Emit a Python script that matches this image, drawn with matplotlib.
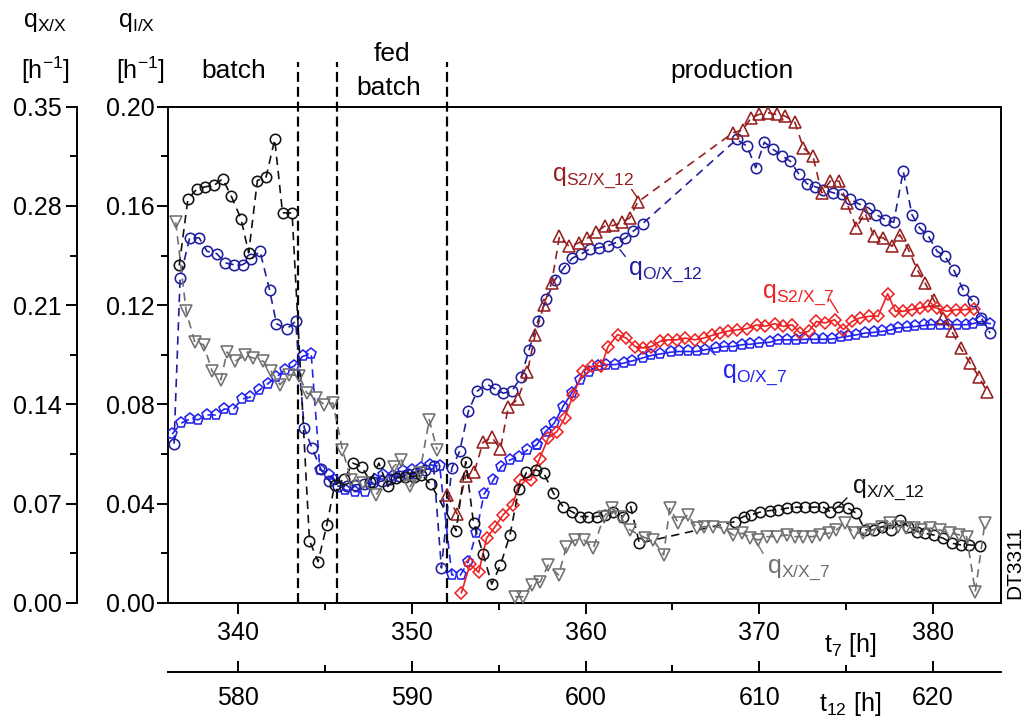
import matplotlib
matplotlib.use("Agg")
import matplotlib.pyplot as plt
from matplotlib.ticker import MultipleLocator, FormatStrFormatter, NullLocator

plt.rcParams['font.family'] = ['Liberation Sans', 'DejaVu Sans']
plt.rcParams['mathtext.default'] = 'regular'

# ---------------- data ----------------
# phase switch times on the t7 scale [h]
phase_bounds = [343.42, 345.66, 352.0]
t12_offset = 240.0

# q_O/X_7 (inner axis, h^-1)
t_ox7 = [336.2, 336.7, 337.2, 337.7, 338.2, 338.7, 339.2, 339.7, 340.2, 340.7,
         341.2, 341.7, 342.2, 342.7, 343.2, 343.7, 344.2, 344.7, 345.2, 345.5,
         346.15, 346.7, 347.3, 347.85, 348.35, 348.9, 349.5, 350.0, 350.5, 351.05,
         351.6, 352.3, 352.8, 353.25, 353.7, 354.15, 354.7, 355.15, 355.65, 356.15,
         356.65, 357.2, 357.7, 358.2, 358.7, 359.2, 359.7, 360.2, 360.7, 361.2,
         361.7, 362.2, 362.7, 363.3, 363.8, 364.3, 364.9, 365.4, 365.9, 366.4,
         366.9, 367.5, 368.0, 368.5, 369.0, 369.5, 370.0, 370.6, 371.1, 371.6,
         372.1, 372.6, 373.2, 373.7, 374.2, 374.7, 375.1, 375.6, 376.1, 376.6,
         377.1, 377.6, 378.0, 378.5, 379.0, 379.5, 379.9, 380.4, 380.9, 381.4,
         381.9, 382.3, 382.8, 383.3]
q_ox7 = [0.068, 0.0724, 0.074, 0.0738, 0.0757, 0.0757, 0.0781, 0.0778, 0.0821, 0.0829,
         0.0856, 0.0883, 0.091, 0.0939, 0.0953, 0.0993, 0.1004, 0.0536, 0.0516, 0.0495,
         0.0455, 0.0448, 0.0448, 0.0495, 0.0516, 0.051, 0.053, 0.0536, 0.0543, 0.0556,
         0.055, 0.0112, 0.0112, 0.0166, 0.028, 0.0437, 0.0495, 0.0549, 0.0576, 0.0589,
         0.0616, 0.0637, 0.069, 0.0724, 0.0791, 0.0845, 0.090, 0.0932, 0.0953, 0.096,
         0.096, 0.0966, 0.0975, 0.0987, 0.0997, 0.1003, 0.101, 0.1013, 0.1013, 0.1013,
         0.102, 0.1027, 0.1033, 0.1033, 0.104, 0.1042, 0.1047, 0.105, 0.106, 0.106,
         0.106, 0.1062, 0.1062, 0.1062, 0.1063, 0.107, 0.1074, 0.108, 0.1087, 0.109,
         0.1094, 0.110, 0.1108, 0.111, 0.1114, 0.1118, 0.1121, 0.1121, 0.1121, 0.1121,
         0.1121, 0.1125, 0.1134, 0.1125]

# q_O/X_12 (inner axis)
t_ox12 = [336.3, 336.65, 337.2, 337.75, 338.2, 338.75, 339.25, 339.75, 340.25, 340.75,
          341.25, 341.8, 342.2, 342.8, 343.3, 343.8, 344.25, 344.75, 345.25, 345.75,
          346.25, 346.75, 347.25, 347.75, 348.25, 348.75, 349.25, 349.75, 350.25, 350.75,
          351.25, 351.7, 352.3, 352.75, 353.25, 353.75, 354.3, 354.8, 355.25, 355.75,
          356.3, 356.75, 357.25, 357.75, 358.25, 358.75, 359.25, 359.75, 360.25, 360.75,
          361.3, 361.8, 362.3, 362.75, 363.3, 368.7, 369.3, 369.8, 370.3, 370.8,
          371.3, 371.8, 372.3, 372.75, 373.2, 373.7, 374.25, 374.75, 375.25, 375.8,
          376.3, 376.75, 377.25, 377.75, 378.3, 378.8, 379.25, 379.75, 380.25, 380.7,
          381.2, 381.75, 382.3, 382.8, 383.3]
q_ox12 = [0.0641, 0.131, 0.1471, 0.1471, 0.1417, 0.1408, 0.137, 0.1363, 0.1363, 0.1386,
          0.1417, 0.1262, 0.1125, 0.1104, 0.1134, 0.0704, 0.0623, 0.054, 0.049, 0.047,
          0.047, 0.0475, 0.048, 0.0485, 0.049, 0.050, 0.051, 0.052, 0.0525, 0.0535,
          0.055, 0.014, 0.0543, 0.061, 0.0771, 0.0852, 0.0882, 0.0862, 0.0845, 0.0852,
          0.0912, 0.102, 0.1134, 0.1225, 0.1303, 0.135, 0.139, 0.1406, 0.1427, 0.1431,
          0.144, 0.1453, 0.1471, 0.1498, 0.1529, 0.1868, 0.1841, 0.1754, 0.1857, 0.1828,
          0.1803, 0.178, 0.1727, 0.169, 0.1678, 0.1666, 0.1653, 0.1646, 0.1626, 0.1606,
          0.1592, 0.1565, 0.1545, 0.1534, 0.174, 0.1565, 0.1511, 0.1478, 0.1417, 0.1397,
          0.1343, 0.1262, 0.1215, 0.1148, 0.1087]

# q_S2/X_12 (inner axis)
t_s12 = [352.05, 352.6, 353.1, 353.6, 354.1, 354.6, 355.1, 355.55, 356.1, 356.65,
         357.1, 357.6, 358.05, 358.5, 359.05, 359.6, 360.1, 360.6, 361.1, 361.6,
         362.1, 362.55, 363.0, 368.5, 369.05, 369.55, 370.0, 370.5, 371.0, 371.5,
         372.05, 372.55, 373.1, 373.6, 374.1, 374.6, 375.05, 375.6, 376.1, 376.6,
         377.15, 377.65, 378.1, 378.6, 379.1, 379.55, 380.05, 380.6, 381.1, 381.6,
         382.15, 382.65, 383.15]
q_s12 = [0.0435, 0.0358, 0.0512, 0.0529, 0.0647, 0.0667, 0.062, 0.079, 0.082, 0.093,
         0.108, 0.120, 0.129, 0.1478, 0.1437, 0.1451, 0.147, 0.1494, 0.1518, 0.1521,
         0.1534, 0.1552, 0.1615, 0.1895, 0.1906, 0.1956, 0.1969, 0.1976, 0.1969, 0.1962,
         0.1938, 0.1834, 0.180, 0.1653, 0.170, 0.170, 0.1612, 0.1511, 0.1572, 0.1478,
         0.1471, 0.1437, 0.1484, 0.1424, 0.1343, 0.129, 0.1222, 0.115, 0.1094, 0.1027,
         0.0966, 0.0912, 0.0848]

# q_S2/X_7 (inner axis)
t_s7 = [352.85, 353.35, 353.85, 354.3, 354.8, 355.25, 355.8, 356.25, 356.85, 357.35,
        357.85, 358.35, 358.8, 359.3, 359.85, 360.35, 360.9, 361.3, 361.85, 362.35,
        362.85, 363.3, 363.8, 364.3, 364.75, 365.25, 365.75, 366.3, 366.8, 367.3,
        367.75, 368.2, 368.7, 369.3, 369.85, 370.35, 370.9, 371.4, 371.9, 372.35,
        372.85, 373.3, 373.8, 374.35, 374.85, 375.35, 375.8, 376.35, 376.85, 377.4,
        377.85, 378.3, 378.8, 379.25, 379.75, 380.25, 380.8, 381.35, 381.85, 382.4]
q_s7 = [0.004, 0.0155, 0.0122, 0.026, 0.0307, 0.0354, 0.0394, 0.0495, 0.0495, 0.058,
        0.0664, 0.069, 0.0744, 0.0839, 0.0933, 0.0953, 0.0953, 0.1033, 0.1081, 0.1067,
        0.1033, 0.1027, 0.1033, 0.1054, 0.106, 0.106, 0.1067, 0.106, 0.1067, 0.1078,
        0.1087, 0.1095, 0.110, 0.1105, 0.112, 0.1115, 0.1125, 0.1114, 0.1121, 0.1087,
        0.1094, 0.1134, 0.1128, 0.1141, 0.1101, 0.1134, 0.1148, 0.1155, 0.1155, 0.1246,
        0.1175, 0.1175, 0.1182, 0.1188, 0.1195, 0.1188, 0.1175, 0.1182, 0.1182, 0.1185]

# q_X/X_12 (outer axis)
t_xx12 = [336.6, 337.1, 337.6, 338.1, 338.6, 339.1, 339.6, 340.15, 340.6, 341.1,
          341.6, 342.1, 342.55, 343.1, 344.1, 344.6, 345.1, 345.55, 346.1, 346.6,
          347.1, 347.6, 348.1, 348.6, 349.1, 349.6, 350.1, 350.55, 351.1, 352.55,
          353.1, 353.55, 354.1, 354.6, 355.1, 355.65, 356.15, 356.6, 357.15, 357.6,
          358.15, 358.7, 359.2, 359.7, 360.15, 360.65, 361.1, 361.6, 362.15, 362.6,
          363.1, 368.6, 369.1, 369.55, 370.05, 370.6, 371.1, 371.6, 372.15, 372.65,
          373.15, 373.65, 374.1, 374.55, 375.1, 375.6, 376.1, 376.6, 377.1, 377.6,
          378.1, 378.6, 379.1, 379.55, 380.05, 380.6, 381.1, 381.6, 382.1, 382.7]
q_xx12 = [0.238, 0.285, 0.2916, 0.2935, 0.2944, 0.2991, 0.2868, 0.2711, 0.2469, 0.2979,
          0.3003, 0.3269, 0.2751, 0.2751, 0.0438, 0.029, 0.0549, 0.083, 0.087, 0.0985,
          0.0961, 0.0855, 0.0985, 0.082, 0.0879, 0.089, 0.089, 0.0902, 0.0835, 0.0508,
          0.0996, 0.0561, 0.0347, 0.013, 0.0266, 0.0478, 0.080, 0.0919, 0.0938, 0.0914,
          0.0773, 0.0678, 0.0643, 0.0608, 0.0608, 0.0608, 0.062, 0.0643, 0.0608, 0.0678,
          0.042, 0.0572, 0.0608, 0.062, 0.0639, 0.065, 0.0655, 0.0667, 0.0674, 0.0674,
          0.0674, 0.0678, 0.0643, 0.0678, 0.0667, 0.0632, 0.0514, 0.0514, 0.0537, 0.0514,
          0.0584, 0.0537, 0.0502, 0.049, 0.0478, 0.0455, 0.042, 0.0408, 0.0408, 0.0401]

# q_X/X_7 (outer axis), batch + fed batch part
t_xx7_a = [336.4, 337.0, 337.5, 338.0, 338.5, 339.0, 339.35, 339.8, 340.4, 340.85,
           341.45, 341.9, 342.4, 342.95, 343.5, 343.95, 344.5, 344.95, 345.45, 346.0,
           346.5, 347.2, 347.95, 348.95, 349.4, 349.9, 350.45, 351.0, 351.45]
q_xx7_a = [0.2685, 0.2056, 0.1837, 0.1821, 0.1632, 0.1573, 0.1769, 0.1703, 0.1745, 0.1727,
           0.1703, 0.1632, 0.1538, 0.1609, 0.1602, 0.148, 0.1444, 0.1397, 0.1409, 0.1079,
           0.0867, 0.0844, 0.0761, 0.0961, 0.1008, 0.082, 0.0914, 0.1291, 0.1079]
# q_X/X_7, production part
t_xx7_b = [355.95, 356.4, 356.9, 357.4, 357.85, 358.45, 358.9, 359.4, 359.9, 360.45,
           361.05, 361.5, 362.0, 362.55, 363.4, 363.9, 364.5, 364.85, 365.35, 365.9,
           366.4, 366.85, 367.35, 367.95, 368.5, 369.0, 369.5, 369.95, 370.45, 371.0,
           371.6, 372.05, 372.55, 373.05, 373.5, 374.0, 374.45, 374.95, 375.45, 376.0,
           376.5, 377.05, 377.55, 378.0, 378.45, 378.9, 379.35, 379.85, 380.4, 381.0,
           381.5, 381.95, 382.45, 383.0]
q_xx7_b = [0.0042, 0.0042, 0.0125, 0.0148, 0.0266, 0.0196, 0.0396, 0.0443, 0.0443, 0.0384,
           0.0608, 0.0667, 0.0608, 0.0514, 0.046, 0.0443, 0.0337, 0.0667, 0.0561, 0.062,
           0.0526, 0.0537, 0.0537, 0.0526, 0.0478, 0.049, 0.046, 0.0443, 0.0466, 0.0466,
           0.0478, 0.0466, 0.0466, 0.0466, 0.0478, 0.049, 0.0514, 0.0565, 0.049, 0.049,
           0.0514, 0.0537, 0.0561, 0.0537, 0.053, 0.0526, 0.0514, 0.0526, 0.0514, 0.049,
           0.048, 0.0466, 0.0078, 0.0561]

# ---------------- styles ----------------
c_navy = '#1f1f9e'
c_blue = '#2323ef'
c_dred = '#962020'
c_red = '#ee2222'
c_black = '#111111'
c_gray = '#707070'
FS = 18
LW_AX = 1.4

W, H = 1028, 724
fig = plt.figure(figsize=(W / 100, H / 100), dpi=100)
L, R, B, T = 168.3, 1001.0, 602.7, 106.7
ax = fig.add_axes([L / W, 1 - B / H, (R - L) / W, (B - T) / H])
ax.set_xlim(335.97, 383.93)
ax.set_ylim(0, 0.20)


def draw(axis, t, q, marker, color, ms, solid=False, z=3):
    kw = dict(color=color, lw=1.2, marker=marker, ms=ms, mfc='none',
              mec=color, mew=1.15, zorder=z, clip_on=True)
    if solid:
        axis.plot(t, q, ls='-', **kw)
    else:
        axis.plot(t, q, ls=(0, (5, 3.5)), **kw)


# phase boundaries, reaching above the frame
for tb in phase_bounds:
    ax.axvline(tb, ymin=0, ymax=(B - 62) / (B - T), color='black', lw=1.6,
               ls=(0, (4.5, 2.2)), clip_on=False, zorder=2)

# q_O/X_7: dashed during batch phases, solid in production
split = 41
draw(ax, t_ox7[:split + 1], q_ox7[:split + 1], 'p', c_blue, 8)
draw(ax, t_ox7[split:], q_ox7[split:], 'p', c_blue, 8, solid=True)
draw(ax, t_ox12, q_ox12, 'o', c_navy, 7.5)
draw(ax, t_s12, q_s12, '^', c_dred, 8.5)
draw(ax, t_s7, q_s7, 'D', c_red, 6.3, solid=True)

# twin axes carrying the q_X/X series (0 .. 0.35)
axx = ax.twinx()
axx.set_ylim(0, 0.35)
axx.set_axis_off()
draw(axx, t_xx12, q_xx12, 'o', c_black, 7.5)
draw(axx, t_xx7_a, q_xx7_a, 'v', c_gray, 8.5)
draw(axx, t_xx7_b, q_xx7_b, 'v', c_gray, 8.5)

# outer scale for q_X/X, placed left of the main frame
X_OUT = 77.0
axs = fig.add_axes([X_OUT / W, 1 - B / H, (L - X_OUT) / W, (B - T) / H])
axs.patch.set_visible(False)
for s in ('right', 'top', 'bottom'):
    axs.spines[s].set_visible(False)
axs.spines['left'].set_linewidth(LW_AX)
axs.set_ylim(axx.get_ylim())
axs.xaxis.set_major_locator(NullLocator())
axs.yaxis.set_major_locator(MultipleLocator(0.07))
axs.yaxis.set_minor_locator(MultipleLocator(0.035))
axs.yaxis.set_major_formatter(FormatStrFormatter('%.2f'))
axs.tick_params(axis='y', which='major', direction='out', length=8, width=LW_AX,
                pad=3, labelsize=FS)
axs.tick_params(axis='y', which='minor', direction='out', length=5, width=LW_AX)

# main axes styling
for s in ax.spines.values():
    s.set_linewidth(LW_AX)
ax.xaxis.set_major_locator(MultipleLocator(10))
ax.xaxis.set_minor_locator(MultipleLocator(5))
ax.yaxis.set_major_locator(MultipleLocator(0.04))
ax.yaxis.set_minor_locator(MultipleLocator(0.02))
ax.yaxis.set_major_formatter(FormatStrFormatter('%.2f'))
ax.xaxis.set_major_formatter(FormatStrFormatter('%d'))
ax.tick_params(axis='both', which='major', direction='out', length=8, width=LW_AX,
               labelsize=FS)
ax.tick_params(axis='y', which='major', pad=1.5)
ax.tick_params(axis='x', which='major', pad=5)
ax.tick_params(axis='both', which='minor', direction='out', length=5, width=LW_AX)

# second time axis (t12)
axt = ax.twiny()
x0, x1 = ax.get_xlim()
axt.set_xlim(x0 + t12_offset, x1 + t12_offset)
axt.xaxis.set_ticks_position('bottom')
axt.xaxis.set_label_position('bottom')
axt.spines['bottom'].set_position(('axes', -69 / (B - T)))
for s in ('right', 'top', 'left'):
    axt.spines[s].set_visible(False)
axt.spines['bottom'].set_linewidth(LW_AX)
axt.xaxis.set_major_locator(MultipleLocator(10))
axt.xaxis.set_minor_locator(MultipleLocator(5))
axt.xaxis.set_major_formatter(FormatStrFormatter('%d'))
axt.tick_params(axis='x', which='major', direction='in', length=8, width=LW_AX,
                pad=10, labelsize=FS)
axt.tick_params(axis='x', which='minor', direction='in', length=5, width=LW_AX)


def ftext(x, y, s, **kw):
    fig.text(x / W, 1 - y / H, s, fontsize=kw.pop('fontsize', FS), **kw)


# axis headers
ftext(45, 22, r'$q_{X/X}$', ha='center', va='center')
ftext(45, 70, r'[h$^{-1}$]', ha='center', va='center')
ftext(137, 22, r'$q_{I/X}$', ha='center', va='center')
ftext(140, 70, r'[h$^{-1}$]', ha='center', va='center')
ftext(850, 645, r'$t_{7}$ [h]', ha='center', va='center')
ftext(850, 704, r'$t_{12}$ [h]', ha='center', va='center')

# phase names
ftext(234, 71, 'batch', ha='center', va='center', fontsize=19)
ftext(392, 54, 'fed', ha='center', va='center', fontsize=19)
ftext(389, 88, 'batch', ha='center', va='center', fontsize=19)
ftext(732, 71, 'production', ha='center', va='center', fontsize=19)
ftext(1015, 563, 'DT3311', ha='center', va='center', rotation=90, fontsize=15)

# series labels with short leader lines (inner-axis data coordinates)
labels = [
    (r'$q_{S2/X\_12}$', c_dred, (358.07, 0.1715), ((362.66, 0.1666), (362.98, 0.1633))),
    (r'$q_{O/X\_12}$', c_navy, (362.45, 0.1335), ((362.28, 0.1397), (361.99, 0.1423))),
    (r'$q_{S2/X\_7}$', c_red, (370.16, 0.1242), ((374.08, 0.1222), (374.54, 0.1170))),
    (r'$q_{O/X\_7}$', c_blue, (367.86, 0.0919), ((367.46, 0.1000), (367.17, 0.1020))),
    (r'$q_{X/X\_12}$', c_black, (375.34, 0.0455), ((375.05, 0.0422), (374.54, 0.0386))),
    (r'$q_{X/X\_7}$', c_gray, (370.45, 0.0132), ((370.22, 0.0200), (369.76, 0.0253))),
]
for txt, col, pos, seg in labels:
    ax.text(pos[0], pos[1], txt, color=col, fontsize=FS, ha='left', va='center',
            zorder=6)
    ax.plot([seg[0][0], seg[1][0]], [seg[0][1], seg[1][1]], color=col, lw=1.0,
            zorder=6)

fig.savefig('out.png', dpi=100)
